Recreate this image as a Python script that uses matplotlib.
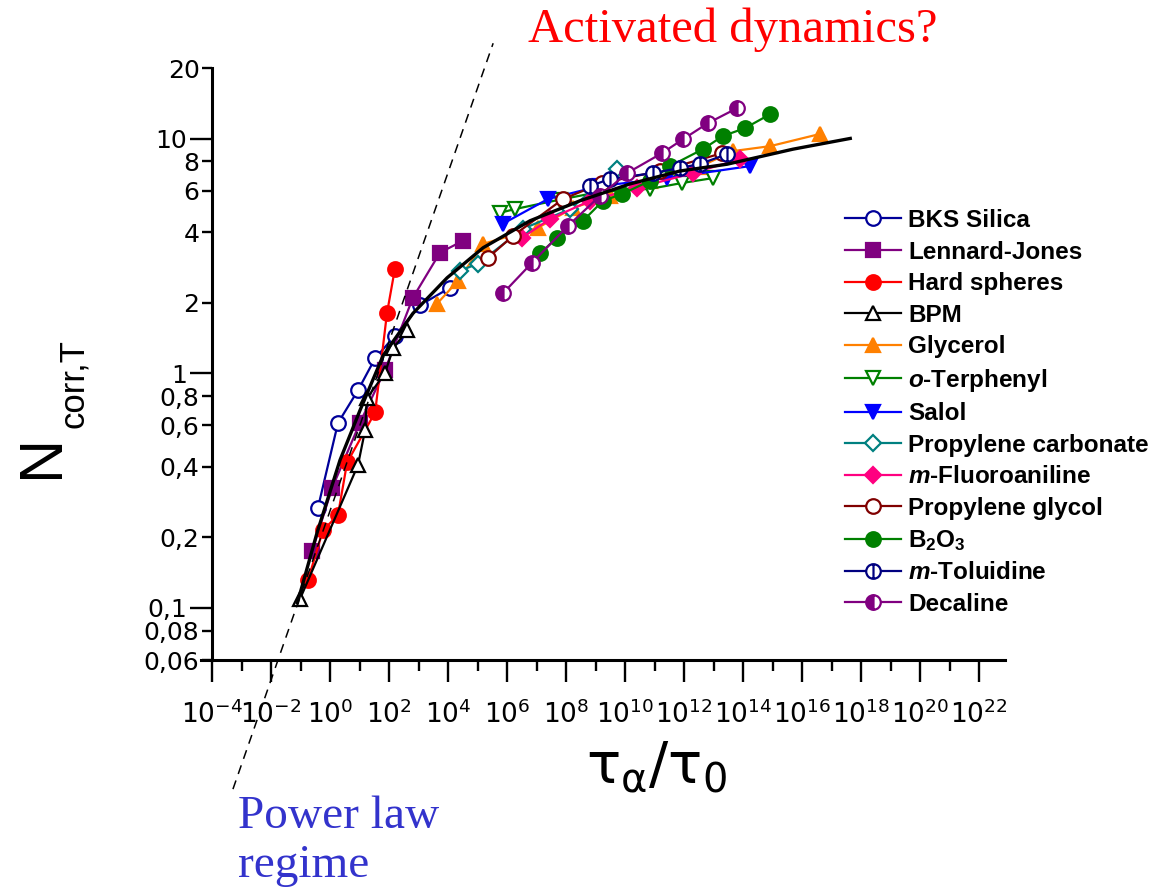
import numpy as np
import matplotlib
matplotlib.use('Agg')
import matplotlib.pyplot as plt
from matplotlib.path import Path
from matplotlib.ticker import FixedLocator, FixedFormatter, LogFormatterSciNotation, NullFormatter

plt.rcParams['font.family'] = ['DejaVu Sans']
plt.rcParams['mathtext.fontset'] = 'custom'
plt.rcParams['mathtext.rm'] = 'DejaVu Sans'
plt.rcParams['mathtext.it'] = 'Liberation Sans:italic:bold'
plt.rcParams['mathtext.bf'] = 'Liberation Sans:bold'

# ---------------- data (x as log10(tau_alpha/tau_0), y = N_corr,T) ----------------
bks_logx = [-0.41, 0.27, 0.95, 1.53, 2.20, 3.05, 4.07]
bks_n = [0.267, 0.614, 0.847, 1.159, 1.445, 1.95, 2.317]

lj_logx = [-0.61, 0.07, 1.02, 1.86, 2.81, 3.73, 4.51]
lj_n = [0.174, 0.324, 0.617, 1.03, 2.10, 3.27, 3.67]

hs_logx = [-0.75, -0.24, 0.27, 0.58, 1.53, 1.93, 2.20]
hs_n = [0.131, 0.214, 0.249, 0.417, 0.682, 1.80, 2.79]

bpm_logx = [-1.02, 0.95, 1.19, 1.25, 1.86, 2.14, 2.61]
bpm_n = [0.109, 0.407, 0.573, 0.783, 1.0, 1.276, 1.524]

gly_logx = [3.63, 4.34, 5.19, 7.05, 8.24, 9.49, 10.85, 12.54, 13.66, 14.92, 16.61]
gly_n = [1.98, 2.48, 3.56, 4.17, 5.07, 5.70, 6.61, 7.59, 8.85, 9.29, 10.47]

otp_logx = [5.76, 6.27, 7.80, 9.15, 10.85, 11.93, 12.98]
otp_n = [4.83, 5.01, 5.50, 5.93, 6.11, 6.47, 6.79]

salol_logx = [5.86, 7.39, 9.15, 11.42, 14.24]
salol_n = [4.34, 5.53, 6.28, 6.79, 7.64]

pc_logx = [4.41, 5.02, 6.54, 8.14, 9.73]
pc_n = [2.74, 2.93, 4.13, 5.01, 7.41]

mfa_logx = [6.51, 7.46, 8.81, 10.41, 12.31, 13.90]
mfa_n = [3.78, 4.55, 5.43, 6.17, 7.14, 8.18]

pg_logx = [5.36, 6.20, 7.90, 9.22, 11.19, 13.29]
pg_n = [3.11, 3.85, 5.53, 6.47, 7.28, 8.67]

b2o3_logx = [7.12, 7.69, 8.58, 9.25, 9.90, 10.85, 11.53, 12.64, 13.32, 14.07, 14.92]
b2o3_n = [3.24, 3.78, 4.47, 5.43, 5.81, 6.61, 7.64, 9.02, 10.26, 11.09, 12.71]

mtol_logx = [8.81, 9.49, 10.95, 11.86, 12.54, 13.46]
mtol_n = [6.28, 6.73, 7.13, 7.50, 7.80, 8.59]

dec_logx = [5.86, 6.85, 8.07, 9.15, 10.07, 11.25, 11.97, 12.81, 13.80]
dec_n = [2.19, 2.96, 4.25, 5.70, 7.13, 8.67, 9.95, 11.64, 13.49]

fit_logx = [-1.12, -0.44, 0.34, 1.02, 1.80, 2.81, 3.97, 5.19, 6.78, 8.47, 10.17, 11.86, 13.46, 15.69, 17.69]
fit_n = [0.1035, 0.209, 0.427, 0.697, 1.19, 1.80, 2.553, 3.428, 4.467, 5.433, 6.412, 7.278, 7.78, 9.016, 10.05]

powerlaw_logx = [-3.29, 5.53]
powerlaw_n = [0.0169, 25.5]

xtick_exps = list(range(-4, 23, 2))
ytick_long_vals = [0.1, 1, 10]
ytick_long_labels = ['0,1', '1', '10']
ytick_short_vals = [0.06, 0.08, 0.2, 0.4, 0.6, 0.8, 2, 4, 6, 8, 20]
ytick_short_labels = ['0,06', '0,08', '0,2', '0,4', '0,6', '0,8', '2', '4', '6', '8', '20']

# ---------------- figure ----------------
W, H = 1155, 896
fig = plt.figure(figsize=(W / 100, H / 100), dpi=100)
ax = fig.add_axes([201 / W, 1 - 660 / H, (1005 - 201) / W, (660 - 68) / H])
ax.set_xscale('log')
ax.set_yscale('log')
ax.set_xlim(10 ** -4.373, 10 ** 22.88)
ax.set_ylim(0.06, 20)

# custom marker: circle with vertical bar
circ = Path.unit_circle()
bar = Path([[0, -1], [0, 1]], [Path.MOVETO, Path.LINETO])
circ_bar = Path.make_compound_path(circ, bar)

ms = 10.5
mew = 1.6
lw = 1.6
series = [
    ('BKS Silica', bks_logx, bks_n, dict(color='#000099', marker='o', mfc='white')),
    ('Lennard-Jones', lj_logx, lj_n, dict(color='#800080', marker='s', mfc='#800080', ms=9.5)),
    ('Hard spheres', hs_logx, hs_n, dict(color='#ff0000', marker='o', mfc='#ff0000')),
    ('BPM', bpm_logx, bpm_n, dict(color='black', marker='^', mfc='white')),
    ('Glycerol', gly_logx, gly_n, dict(color='#ff8000', marker='^', mfc='#ff8000')),
    (r'$\mathit{o}$-Terphenyl', otp_logx, otp_n, dict(color='#008000', marker='v', mfc='white')),
    ('Salol', salol_logx, salol_n, dict(color='#0000ff', marker='v', mfc='#0000ff')),
    ('Propylene carbonate', pc_logx, pc_n, dict(color='#008080', marker='D', mfc='white', ms=8.5)),
    (r'$\mathit{m}$-Fluoroaniline', mfa_logx, mfa_n, dict(color='#ff0080', marker='D', mfc='#ff0080', ms=8.5)),
    ('Propylene glycol', pg_logx, pg_n, dict(color='#800000', marker='o', mfc='white')),
    (r'B$_{\mathbf{2}}$O$_{\mathbf{3}}$', b2o3_logx, b2o3_n, dict(color='#008000', marker='o', mfc='#008000')),
    (r'$\mathit{m}$-Toluidine', mtol_logx, mtol_n, dict(color='#000080', marker=circ_bar, mfc='white')),
    ('Decaline', dec_logx, dec_n, dict(color='#800080', marker='o', fillstyle='left', mfc='#800080', mfcalt='white')),
]

handles = []
labels = []
for i, (name, lx, ny, st) in enumerate(series):
    st = dict(st)
    color = st.pop('color')
    m = st.pop('marker')
    size = st.pop('ms', ms)
    line, = ax.plot(10 ** np.array(lx), ny, color=color, marker=m, markersize=size,
                    markeredgecolor=color, markeredgewidth=mew, linewidth=lw,
                    markerfacecolor=st.pop('mfc', 'white'),
                    markerfacecoloralt=st.pop('mfcalt', 'none'),
                    fillstyle=st.pop('fillstyle', 'full'), zorder=3 + i * 0.01)
    handles.append(line)
    labels.append(name)

# generic fit curve
ax.plot(10 ** np.array(fit_logx), fit_n, color='black', linewidth=2.4, zorder=5,
        solid_capstyle='butt')

# power-law guide (extends beyond the frame)
ax.plot(10 ** np.array(powerlaw_logx), powerlaw_n, color='black', linewidth=1.1,
        dashes=(6, 4.5), clip_on=False, zorder=4)

# spines
for s in ['top', 'right']:
    ax.spines[s].set_visible(False)
ax.spines['left'].set_position(('data', 1e-4))
ax.spines['left'].set_linewidth(2.2)
ax.spines['bottom'].set_linewidth(2.2)

# x ticks
ax.xaxis.set_major_locator(FixedLocator([10.0 ** e for e in xtick_exps]))
ax.xaxis.set_major_formatter(LogFormatterSciNotation())
ax.xaxis.set_minor_locator(FixedLocator([10.0 ** (e + 1) for e in xtick_exps[:-1]]))
ax.xaxis.set_minor_formatter(NullFormatter())
ax.tick_params(axis='x', which='major', length=16, width=1.7, direction='out', labelsize=19, pad=13)
ax.tick_params(axis='x', which='minor', length=8, width=1.7, direction='out')

# y ticks: long ticks at decades, short ticks elsewhere, all labelled
ax.yaxis.set_major_locator(FixedLocator(ytick_long_vals))
ax.yaxis.set_major_formatter(FixedFormatter(ytick_long_labels))
ax.yaxis.set_minor_locator(FixedLocator(ytick_short_vals))
ax.yaxis.set_minor_formatter(FixedFormatter(ytick_short_labels))
ax.tick_params(axis='y', which='major', length=16, width=1.7, direction='out', labelsize=18, pad=2)
ax.tick_params(axis='y', which='minor', length=7, width=1.7, direction='out', labelsize=18, pad=2)

# axis labels
fig.text(14 / W, 1 - 456 / H, 'N', rotation=90, ha='left', va='center',
         fontsize=44, family=['Liberation Sans Narrow', 'Liberation Sans'])
fig.text(57 / W, 1 - 384 / H, 'corr,T', rotation=90, ha='left', va='center',
         fontsize=25, family=['Liberation Sans Narrow', 'Liberation Sans'])
fig.text(657 / W, 1 - 768 / H, r'$\mathrm{\tau}_{\mathrm{\alpha}}/\mathrm{\tau}_{0}$',
         ha='center', va='center', fontsize=41)

# annotations
fig.text(528 / W, 1 - 42 / H, 'Activated dynamics?', color='#ff0000', fontsize=35,
         family='Liberation Serif', ha='left', va='baseline')
fig.text(238 / W, 1 - 828 / H, 'Power law', color='#3333cc', fontsize=34,
         family='Liberation Serif', ha='left', va='baseline')
fig.text(238 / W, 1 - 877 / H, 'regime', color='#3333cc', fontsize=34,
         family='Liberation Serif', ha='left', va='baseline')

# legend
leg = fig.legend(handles, labels, loc='upper left', bbox_to_anchor=(845 / W, 1 - 209 / H),
                 bbox_transform=fig.transFigure, frameon=False, borderpad=0, borderaxespad=0,
                 handlelength=2.3, handletextpad=0.3, labelspacing=0.35,
                 prop=dict(family='Liberation Sans', weight='bold', size=17.5))

fig.savefig('out.png', dpi=100)
